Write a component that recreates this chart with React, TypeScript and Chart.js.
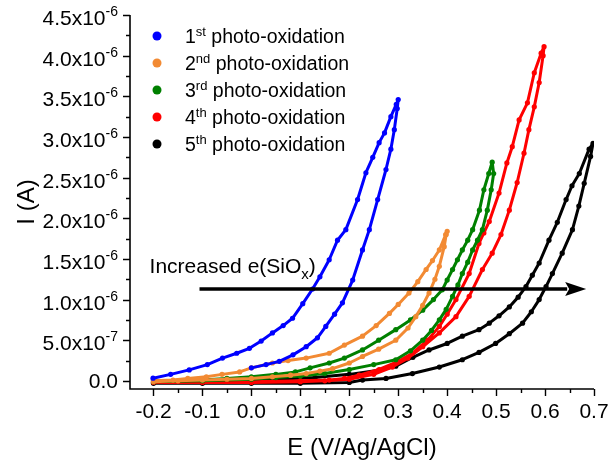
import React, { useEffect, useRef } from "react";
import { Chart, registerables } from "chart.js";

Chart.register(...registerables);

// ---------- data (E in V vs Ag/AgCl, I in A) ----------
const blueE = [0.000, 0.030, 0.057, 0.085, 0.112, 0.135, 0.152, 0.170, 0.186, 0.207, 0.227, 0.241, 0.258, 0.275, 0.285, 0.292, 0.298, 0.300, 0.296, 0.285, 0.272, 0.261, 0.248, 0.234, 0.217, 0.193, 0.176, 0.159, 0.140, 0.125, 0.105, 0.084, 0.065, 0.043, 0.020, -0.004, -0.030, -0.059, -0.090, -0.127, -0.165, -0.201];
const blueI = [0.16e-6, 0.20e-6, 0.24e-6, 0.32e-6, 0.42e-6, 0.53e-6, 0.67e-6, 0.82e-6, 0.96e-6, 1.24e-6, 1.61e-6, 1.86e-6, 2.23e-6, 2.60e-6, 2.85e-6, 3.09e-6, 3.35e-6, 3.46e-6, 3.40e-6, 3.25e-6, 3.05e-6, 2.93e-6, 2.75e-6, 2.56e-6, 2.23e-6, 1.86e-6, 1.73e-6, 1.49e-6, 1.28e-6, 1.13e-6, 0.95e-6, 0.77e-6, 0.68e-6, 0.59e-6, 0.49e-6, 0.40e-6, 0.34e-6, 0.28e-6, 0.20e-6, 0.135e-6, 0.08e-6, 0.033e-6];

const orangeE = [-0.200, -0.150, -0.100, -0.050, 0.000, 0.043, 0.080, 0.112, 0.140, 0.166, 0.200, 0.227, 0.260, 0.295, 0.320, 0.336, 0.350, 0.363, 0.375, 0.384, 0.394, 0.398, 0.400, 0.397, 0.384, 0.370, 0.357, 0.340, 0.322, 0.300, 0.282, 0.255, 0.227, 0.190, 0.159, 0.112, 0.075, 0.043, 0.000, -0.024, -0.060, -0.092, -0.130, -0.160, -0.200];
const orangeI = [-0.01e-6, 0.00e-6, 0.01e-6, 0.02e-6, 0.03e-6, 0.05e-6, 0.07e-6, 0.09e-6, 0.12e-6, 0.15e-6, 0.22e-6, 0.30e-6, 0.39e-6, 0.50e-6, 0.65e-6, 0.79e-6, 0.93e-6, 1.08e-6, 1.25e-6, 1.41e-6, 1.65e-6, 1.80e-6, 1.84e-6, 1.80e-6, 1.61e-6, 1.48e-6, 1.37e-6, 1.22e-6, 1.08e-6, 0.94e-6, 0.83e-6, 0.68e-6, 0.55e-6, 0.44e-6, 0.34e-6, 0.28e-6, 0.25e-6, 0.22e-6, 0.16e-6, 0.11e-6, 0.08e-6, 0.05e-6, 0.03e-6, 0.01e-6, 0.00e-6];

const greenE = [-0.200, -0.100, 0.000, 0.050, 0.100, 0.150, 0.200, 0.250, 0.295, 0.325, 0.350, 0.368, 0.384, 0.398, 0.411, 0.422, 0.431, 0.442, 0.452, 0.462, 0.472, 0.482, 0.490, 0.495, 0.492, 0.485, 0.475, 0.466, 0.452, 0.442, 0.431, 0.421, 0.411, 0.400, 0.390, 0.372, 0.350, 0.325, 0.295, 0.260, 0.227, 0.190, 0.159, 0.120, 0.090, 0.050, 0.000, -0.050, -0.100, -0.200];
const greenI = [-0.01e-6, 0.00e-6, 0.02e-6, 0.04e-6, 0.06e-6, 0.09e-6, 0.14e-6, 0.20e-6, 0.26e-6, 0.37e-6, 0.50e-6, 0.62e-6, 0.75e-6, 0.88e-6, 1.04e-6, 1.18e-6, 1.32e-6, 1.46e-6, 1.61e-6, 1.73e-6, 1.86e-6, 2.10e-6, 2.35e-6, 2.55e-6, 2.69e-6, 2.55e-6, 2.35e-6, 2.10e-6, 1.86e-6, 1.73e-6, 1.61e-6, 1.49e-6, 1.37e-6, 1.24e-6, 1.12e-6, 1.00e-6, 0.87e-6, 0.75e-6, 0.63e-6, 0.50e-6, 0.38e-6, 0.28e-6, 0.22e-6, 0.16e-6, 0.11e-6, 0.08e-6, 0.05e-6, 0.03e-6, 0.01e-6, 0.00e-6];

const redE = [-0.200, -0.100, 0.000, 0.100, 0.150, 0.200, 0.250, 0.288, 0.320, 0.350, 0.384, 0.418, 0.445, 0.472, 0.492, 0.510, 0.527, 0.543, 0.557, 0.567, 0.578, 0.588, 0.596, 0.598, 0.592, 0.578, 0.564, 0.547, 0.533, 0.522, 0.506, 0.486, 0.475, 0.465, 0.445, 0.418, 0.400, 0.384, 0.360, 0.329, 0.300, 0.261, 0.220, 0.190, 0.159, 0.100, 0.000, -0.200];
const redI = [-0.02e-6, -0.02e-6, -0.02e-6, -0.01e-6, 0.00e-6, 0.02e-6, 0.08e-6, 0.17e-6, 0.28e-6, 0.42e-6, 0.59e-6, 0.79e-6, 1.04e-6, 1.37e-6, 1.57e-6, 1.80e-6, 2.10e-6, 2.44e-6, 2.80e-6, 3.09e-6, 3.37e-6, 3.67e-6, 4.00e-6, 4.11e-6, 4.03e-6, 3.79e-6, 3.42e-6, 3.21e-6, 2.88e-6, 2.68e-6, 2.31e-6, 1.96e-6, 1.82e-6, 1.69e-6, 1.32e-6, 1.00e-6, 0.82e-6, 0.67e-6, 0.50e-6, 0.34e-6, 0.24e-6, 0.14e-6, 0.07e-6, 0.03e-6, 0.01e-6, 0.00e-6, -0.01e-6, -0.01e-6];

const blackE = [-0.200, -0.100, 0.000, 0.100, 0.200, 0.227, 0.275, 0.329, 0.384, 0.431, 0.465, 0.499, 0.527, 0.554, 0.572, 0.588, 0.602, 0.615, 0.635, 0.656, 0.669, 0.680, 0.693, 0.698, 0.690, 0.670, 0.655, 0.643, 0.625, 0.608, 0.588, 0.574, 0.561, 0.545, 0.527, 0.506, 0.486, 0.465, 0.431, 0.400, 0.363, 0.330, 0.295, 0.260, 0.200, 0.130, 0.050, 0.000, -0.100, -0.200];
const blackI = [-0.03e-6, -0.03e-6, -0.03e-6, -0.03e-6, -0.02e-6, 0.01e-6, 0.03e-6, 0.09e-6, 0.17e-6, 0.26e-6, 0.35e-6, 0.46e-6, 0.58e-6, 0.71e-6, 0.85e-6, 1.00e-6, 1.16e-6, 1.32e-6, 1.57e-6, 1.86e-6, 2.15e-6, 2.43e-6, 2.76e-6, 2.92e-6, 2.85e-6, 2.55e-6, 2.40e-6, 2.23e-6, 1.95e-6, 1.73e-6, 1.45e-6, 1.30e-6, 1.16e-6, 1.03e-6, 0.91e-6, 0.80e-6, 0.71e-6, 0.63e-6, 0.55e-6, 0.46e-6, 0.38e-6, 0.29e-6, 0.18e-6, 0.13e-6, 0.08e-6, 0.04e-6, 0.02e-6, 0.00e-6, -0.01e-6, -0.02e-6];

// legend labels: ordinal number, superscript suffix, rest
const seriesNumbers = ["1", "2", "3", "4", "5"];
const seriesSuffixes = ["st", "nd", "rd", "th", "th"];
const seriesRest = " photo-oxidation";
const seriesColors = ["#0000FF", "#F28A33", "#008000", "#FF0000", "#000000"];

// axes
const xMin = -0.248;
const xMax = 0.7;
const yMin = -0.1e-6;
const yMax = 4.5e-6;
const xTickValues = [-0.2, -0.1, 0.0, 0.1, 0.2, 0.3, 0.4, 0.5, 0.6, 0.7];
const xTickLabels = ["-0.2", "-0.1", "0.0", "0.1", "0.2", "0.3", "0.4", "0.5", "0.6", "0.7"];
const xMinorTicks = [-0.15, -0.05, 0.05, 0.15, 0.25, 0.35, 0.45, 0.55, 0.65];
const yTickValues = [0, 0.5e-6, 1.0e-6, 1.5e-6, 2.0e-6, 2.5e-6, 3.0e-6, 3.5e-6, 4.0e-6, 4.5e-6];
const yTickMantissa = ["0.0", "5.0x10", "1.0x10", "1.5x10", "2.0x10", "2.5x10", "3.0x10", "3.5x10", "4.0x10", "4.5x10"];
const yTickExponent = ["", "-7", "-6", "-6", "-6", "-6", "-6", "-6", "-6", "-6"];
const yMinorTicks = [0.25e-6, 0.75e-6, 1.25e-6, 1.75e-6, 2.25e-6, 2.75e-6, 3.25e-6, 3.75e-6, 4.25e-6];
const xTitle = "E (V/Ag/AgCl)";
const yTitle = "I (A)";

// annotation
const annotationMain = "Increased e(SiO";
const annotationSub = "x";
const annotationEnd = ")";
const annotationE = -0.208;
const annotationI = 1.328e-6;
const arrowStartE = -0.106;
const arrowEndE = 0.684;
const arrowI = 1.13e-6;

const FAMILY = '"Liberation Sans", Arial, Helvetica, sans-serif';
const f = (s: number) => `${s}px ${FAMILY}`;

const originPlugin = {
  id: "originStyle",
  afterDatasetsDraw(chart: any) {
    const ctx = chart.ctx as CanvasRenderingContext2D;
    const xs = chart.scales.x;
    const ys = chart.scales.y;
    ctx.save();
    // arrow
    const x0 = xs.getPixelForValue(arrowStartE);
    const x1 = xs.getPixelForValue(arrowEndE);
    const yA = ys.getPixelForValue(arrowI);
    const headLen = 21;
    const headHalf = 7;
    ctx.strokeStyle = "#000";
    ctx.fillStyle = "#000";
    ctx.lineWidth = 3.5;
    ctx.beginPath();
    ctx.moveTo(x0, yA);
    ctx.lineTo(x1 - headLen + 2, yA);
    ctx.stroke();
    ctx.beginPath();
    ctx.moveTo(x1, yA);
    ctx.lineTo(x1 - headLen, yA - headHalf);
    ctx.lineTo(x1 - headLen + 4, yA);
    ctx.lineTo(x1 - headLen, yA + headHalf);
    ctx.closePath();
    ctx.fill();
    // annotation text
    const tx = xs.getPixelForValue(annotationE);
    const ty = ys.getPixelForValue(annotationI);
    ctx.textAlign = "left";
    ctx.textBaseline = "alphabetic";
    ctx.font = f(21);
    ctx.fillText(annotationMain, tx, ty);
    let w = ctx.measureText(annotationMain).width;
    ctx.font = f(15);
    ctx.fillText(annotationSub, tx + w, ty + 6);
    w += ctx.measureText(annotationSub).width;
    ctx.font = f(21);
    ctx.fillText(annotationEnd, tx + w, ty);
    ctx.restore();
  },
  afterDraw(chart: any) {
    const ctx = chart.ctx as CanvasRenderingContext2D;
    const xs = chart.scales.x;
    const ys = chart.scales.y;
    const a = chart.chartArea;
    ctx.save();
    ctx.strokeStyle = "#000";
    ctx.fillStyle = "#000";
    ctx.lineWidth = 1.6;
    // axis lines
    ctx.beginPath();
    ctx.moveTo(a.left, a.top);
    ctx.lineTo(a.left, a.bottom);
    ctx.lineTo(a.right, a.bottom);
    ctx.stroke();
    // ticks
    ctx.lineWidth = 1.4;
    ctx.beginPath();
    xTickValues.forEach((v) => {
      const px = Math.round(xs.getPixelForValue(v)) + 0.5;
      ctx.moveTo(px, a.bottom);
      ctx.lineTo(px, a.bottom + 7);
    });
    xMinorTicks.forEach((v) => {
      const px = Math.round(xs.getPixelForValue(v)) + 0.5;
      ctx.moveTo(px, a.bottom);
      ctx.lineTo(px, a.bottom + 4);
    });
    yTickValues.forEach((v) => {
      const py = Math.round(ys.getPixelForValue(v)) + 0.5;
      ctx.moveTo(a.left, py);
      ctx.lineTo(a.left - 7, py);
    });
    yMinorTicks.forEach((v) => {
      const py = Math.round(ys.getPixelForValue(v)) + 0.5;
      ctx.moveTo(a.left, py);
      ctx.lineTo(a.left - 4, py);
    });
    ctx.stroke();
    // x tick labels
    ctx.font = f(21);
    ctx.textAlign = "center";
    ctx.textBaseline = "alphabetic";
    xTickValues.forEach((v, i) => {
      ctx.fillText(xTickLabels[i], xs.getPixelForValue(v), a.bottom + 29);
    });
    // y tick labels
    const right = a.left - 12;
    yTickValues.forEach((v, i) => {
      const py = ys.getPixelForValue(v);
      const m = yTickMantissa[i];
      const e = yTickExponent[i];
      ctx.textAlign = "left";
      if (!e) {
        ctx.font = f(21);
        const wm = ctx.measureText(m).width;
        ctx.fillText(m, right - wm, py + 7.5);
      } else {
        ctx.font = f(21);
        const wm = ctx.measureText(m).width;
        ctx.font = f(14);
        const we = ctx.measureText(e).width;
        const start = right - wm - we;
        ctx.font = f(21);
        ctx.fillText(m, start, py + 10);
        ctx.font = f(14);
        ctx.fillText(e, start + wm, py + 1);
      }
    });
    // axis titles
    ctx.font = f(24);
    ctx.textAlign = "center";
    ctx.fillText(xTitle, (a.left + a.right) / 2, a.bottom + 66);
    ctx.save();
    ctx.translate(34, (a.top + a.bottom) / 2);
    ctx.rotate(-Math.PI / 2);
    ctx.fillText(yTitle, 0, 0);
    ctx.restore();
    // legend
    seriesNumbers.forEach((n, i) => {
      const cy = a.top + 21 + i * 27;
      ctx.fillStyle = seriesColors[i];
      ctx.beginPath();
      ctx.arc(a.left + 27, cy, 4.5, 0, Math.PI * 2);
      ctx.fill();
      ctx.fillStyle = "#000";
      ctx.textAlign = "left";
      let x = a.left + 55;
      ctx.font = f(19.5);
      ctx.fillText(n, x, cy + 7);
      x += ctx.measureText(n).width;
      ctx.font = f(13);
      ctx.fillText(seriesSuffixes[i], x, cy);
      x += ctx.measureText(seriesSuffixes[i]).width;
      ctx.font = f(19.5);
      ctx.fillText(seriesRest, x, cy + 7);
    });
    ctx.restore();
  },
};

const seriesE = [blueE, orangeE, greenE, redE, blackE];
const seriesI = [blueI, orangeI, greenI, redI, blackI];

export default function App() {
  const ref = useRef<HTMLCanvasElement | null>(null);
  useEffect(() => {
    if (!ref.current) return;
    const datasets = seriesE.map((E, k) => ({
      label: seriesNumbers[k] + seriesSuffixes[k] + seriesRest,
      data: E.map((e, i) => ({ x: e, y: seriesI[k][i] })),
      showLine: true,
      borderColor: seriesColors[k],
      backgroundColor: seriesColors[k],
      borderWidth: 3,
      borderJoinStyle: "round",
      borderCapStyle: "round",
      pointRadius: 2.6,
      pointBorderWidth: 0,
      tension: 0,
    }));
    const chart = new Chart(ref.current, {
      type: "scatter",
      data: { datasets },
      options: {
        animation: false,
        responsive: false,
        layout: { padding: { left: 130, right: 14, top: 15, bottom: 77 } },
        plugins: { legend: { display: false }, tooltip: { enabled: false } },
        scales: {
          x: { type: "linear", min: xMin, max: xMax, display: false },
          y: { type: "linear", min: yMin, max: yMax, display: false },
        },
      },
      plugins: [originPlugin],
    } as any);
    return () => chart.destroy();
  }, []);
  return (
    <div style={{ position: "absolute", left: 0, top: 0, width: 608, height: 466, background: "#fff" }}>
      <canvas ref={ref} width={608} height={466} style={{ display: "block" }} />
    </div>
  );
}
